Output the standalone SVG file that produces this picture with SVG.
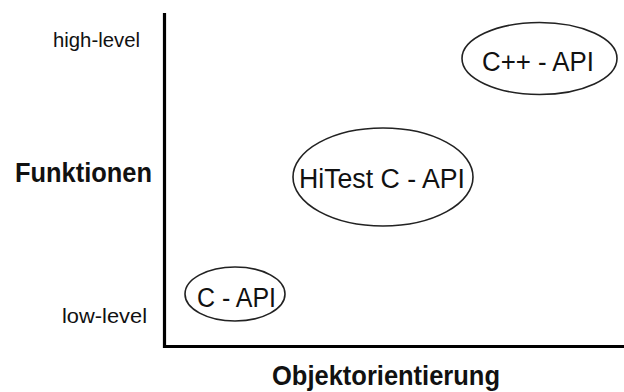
<svg xmlns="http://www.w3.org/2000/svg" width="624" height="392" viewBox="0 0 624 392">
  <style>
    .lbl { font-family: "Liberation Sans", Arial, sans-serif; font-size: 21px; fill: #111; }
    .title { font-family: "Liberation Sans", Arial, sans-serif; font-size: 27px; font-weight: bold; fill: #111; }
    .node ellipse { fill: none; stroke: #222; stroke-width: 1.6; }
    .node text { font-family: "Liberation Sans", Arial, sans-serif; font-size: 27px; fill: #111; }
    .axis { stroke: #000; stroke-width: 3.2; fill: none; }
  </style>
  <rect width="624" height="392" fill="#fff"/>

  <!-- axes -->
  <g id="axes">
    <path class="axis" d="M164.5 13 V346.5 H624"/>
  </g>

  <!-- axis labels -->
  <text class="lbl" x="53" y="47" textLength="87" lengthAdjust="spacingAndGlyphs">high-level</text>
  <text class="lbl" x="62" y="323" textLength="85" lengthAdjust="spacingAndGlyphs">low-level</text>
  <text class="title" x="15" y="182" textLength="137" lengthAdjust="spacingAndGlyphs">Funktionen</text>
  <text class="title" x="272" y="385" textLength="228" lengthAdjust="spacingAndGlyphs">Objektorientierung</text>

  <!-- nodes -->
  <g id="node-cpp" class="node">
    <ellipse cx="539.5" cy="58.5" rx="77.5" ry="36"/>
    <text x="482" y="71" textLength="112" lengthAdjust="spacingAndGlyphs">C++ - API</text>
  </g>
  <g id="node-hitest" class="node">
    <ellipse cx="383" cy="177" rx="90" ry="49"/>
    <text x="299" y="188" textLength="166" lengthAdjust="spacingAndGlyphs">HiTest C - API</text>
  </g>
  <g id="node-c" class="node">
    <ellipse cx="235" cy="294" rx="50" ry="27"/>
    <text x="197" y="307" textLength="79" lengthAdjust="spacingAndGlyphs">C - API</text>
  </g>

  <!-- connectors: none drawn in this chart -->
  <g id="connectors"/>
</svg>
